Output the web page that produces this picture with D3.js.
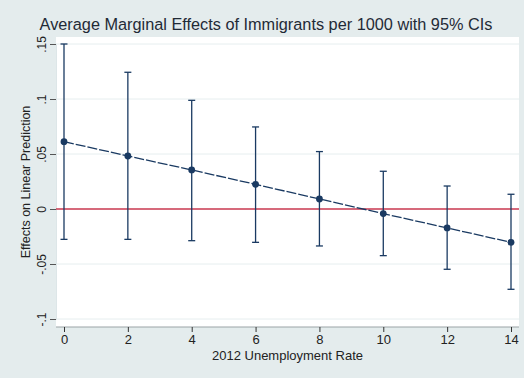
<!DOCTYPE html>
<html>
<head>
<meta charset="utf-8">
<script src="https://cdn.jsdelivr.net/npm/d3@7"></script>
<style>
  html, body { margin: 0; padding: 0; background: #e4eced; }
  svg { display: block; font-family: "Liberation Sans", Arial, Helvetica, sans-serif; }
</style>
</head>
<body>
<script>
// Unemployment rates at which the marginal effect is evaluated
const unemployment = [0, 2, 4, 6, 8, 10, 12, 14];
// Average marginal effect of immigrants per 1000
const effect = [0.0612, 0.0482, 0.0355, 0.0224, 0.0091, -0.0042, -0.0172, -0.0303];
// 95% confidence bounds
const ciLower = [-0.0276, -0.0276, -0.0288, -0.0303, -0.0336, -0.0424, -0.0548, -0.0730];
const ciUpper = [0.1500, 0.1243, 0.0988, 0.0746, 0.0522, 0.0343, 0.0209, 0.0134];
// Axis ticks and their labels
const yTicks = [-0.1, -0.05, 0, 0.05, 0.1, 0.15];
const yTickLabels = ["-.1", "-.05", "0", ".05", ".1", ".15"];
const xTicks = [0, 2, 4, 6, 8, 10, 12, 14];

const W = 524, H = 378;
const plot = { left: 56, right: 519, top: 37, bottom: 327 };
const navy = "#1a3a62";

const svg = d3.select("body").append("svg")
  .attr("width", W).attr("height", H);

svg.append("rect").attr("width", W).attr("height", H).attr("fill", "#e4eced");

const x = d3.scaleLinear().domain([0, 14]).range([64, 511]);
const y = d3.scaleLinear().domain([-0.1, 0.15]).range([319, 44]);

// plot region
svg.append("rect")
  .attr("x", plot.left).attr("y", plot.top)
  .attr("width", plot.right - plot.left).attr("height", plot.bottom - plot.top)
  .attr("fill", "#ffffff");

// horizontal gridlines
svg.append("g").selectAll("line")
  .data(yTicks.filter(d => d !== 0))
  .join("line")
  .attr("x1", plot.left).attr("x2", plot.right)
  .attr("y1", d => y(d)).attr("y2", d => y(d))
  .attr("stroke", "#e6eeef").attr("stroke-width", 1);

// y axis (rotated tick labels)
const yAxis = svg.append("g")
  .attr("transform", `translate(${plot.left},0)`)
  .call(d3.axisLeft(y).tickValues(yTicks)
    .tickFormat((d, i) => yTickLabels[i]).tickSize(6).tickPadding(4));
yAxis.select(".domain").attr("stroke", "#dde6e8");
yAxis.selectAll(".tick line").attr("stroke", "#555");
yAxis.selectAll(".tick text")
  .attr("transform", "rotate(-90)")
  .attr("x", 0).attr("y", -10)
  .attr("dy", 0)
  .attr("text-anchor", "middle")
  .attr("font-size", 12).attr("fill", "#222");

// x axis
const xAxis = svg.append("g")
  .attr("transform", `translate(0,${plot.bottom})`)
  .call(d3.axisBottom(x).tickValues(xTicks).tickFormat(d3.format("d"))
    .tickSize(5).tickPadding(3).tickSizeOuter(0));
xAxis.select(".domain").attr("stroke", "#9aa3a6").attr("d", `M${plot.left},0H${plot.right}`);
xAxis.selectAll(".tick line").attr("stroke", "#333");
xAxis.selectAll(".tick text").attr("font-size", 13).attr("fill", "#222");

// reference line at zero
svg.append("line")
  .attr("x1", plot.left).attr("x2", plot.right)
  .attr("y1", y(0)).attr("y2", y(0))
  .attr("stroke", "#c8374f").attr("stroke-width", 1.5);

// confidence interval spikes with caps
const ci = svg.append("g").attr("stroke", navy).attr("stroke-width", 1.3).attr("fill", "none");
unemployment.forEach((u, i) => {
  const cx = x(u);
  ci.append("line").attr("x1", cx).attr("x2", cx)
    .attr("y1", y(ciLower[i])).attr("y2", y(ciUpper[i]));
  ci.append("line").attr("x1", cx - 3.5).attr("x2", cx + 3.5)
    .attr("y1", y(ciLower[i])).attr("y2", y(ciLower[i]));
  ci.append("line").attr("x1", cx - 3.5).attr("x2", cx + 3.5)
    .attr("y1", y(ciUpper[i])).attr("y2", y(ciUpper[i]));
});

// connecting line of point estimates
svg.append("path")
  .datum(unemployment.map((u, i) => [u, effect[i]]))
  .attr("d", d3.line().x(d => x(d[0])).y(d => y(d[1])))
  .attr("fill", "none").attr("stroke", navy)
  .attr("stroke-width", 1.3).attr("stroke-dasharray", "10,2");

// point estimates
svg.append("g").selectAll("circle")
  .data(unemployment)
  .join("circle")
  .attr("cx", d => x(d))
  .attr("cy", (d, i) => y(effect[i]))
  .attr("r", 3.4)
  .attr("fill", navy);

// titles
svg.append("text")
  .attr("x", 266).attr("y", 30)
  .attr("text-anchor", "middle")
  .attr("font-size", 16.3).attr("fill", "#1f2a36")
  .text("Average Marginal Effects of Immigrants per 1000 with 95% CIs");

svg.append("text")
  .attr("x", (plot.left + plot.right) / 2).attr("y", 360)
  .attr("text-anchor", "middle")
  .attr("font-size", 13).attr("fill", "#222")
  .text("2012 Unemployment Rate");

svg.append("text")
  .attr("transform", `translate(30,${(plot.top + plot.bottom) / 2}) rotate(-90)`)
  .attr("text-anchor", "middle")
  .attr("font-size", 12.5).attr("fill", "#222")
  .text("Effects on Linear Prediction");
</script>
</body>
</html>
